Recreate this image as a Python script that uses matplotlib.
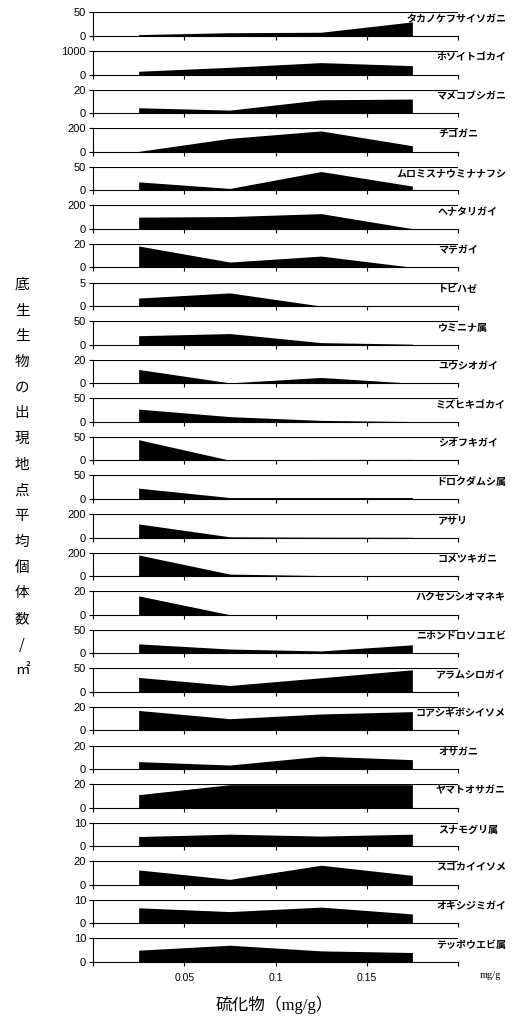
import numpy as np
import matplotlib
matplotlib.use("Agg")
import matplotlib.pyplot as plt

plt.rcParams['font.family'] = ['Liberation Sans', 'Noto Sans CJK JP', 'DejaVu Sans']

# sulfide class midpoints (mg/g)
sulfide = [0.025, 0.075, 0.125, 0.175]

species = ["タカノケフサイソガニ", "ホソイトゴカイ", "マメコブシガニ", "チゴガニ",
           "ムロミスナウミナナフシ", "ヘナタリガイ", "マテガイ", "トビハゼ",
           "ウミニナ属", "ユウシオガイ", "ミズヒキゴカイ", "シオフキガイ",
           "ドロクダムシ属", "アサリ", "コメツキガニ", "ハクセンシオマネキ",
           "ニホンドロソコエビ", "アラムシロガイ", "コアシギボシイソメ", "オサガニ",
           "ヤマトオサガニ", "スナモグリ属", "スゴカイイソメ", "オキシジミガイ",
           "テッポウエビ属"]

ymax = [50, 1000, 20, 200, 50, 200, 20, 5, 50, 20, 50, 50, 50, 200, 200, 20,
        50, 50, 20, 20, 20, 10, 20, 10, 10]

counts = [
    [3, 7, 8, 30],
    [140, 310, 510, 380],
    [4.6, 2.6, 11.4, 12],
    [3, 114, 177, 51],
    [18, 4, 40, 9],
    [100, 105, 130, 2],
    [18.3, 4.6, 9.7, 0.2],
    [1.7, 2.8, 0, 0],
    [19, 23.6, 4.3, 1],
    [11.7, 0.3, 4.9, 0],
    [27, 11, 3, 0.5],
    [44, 0.3, 2, 2],
    [23, 3, 3, 3],
    [116, 6, 3, 2],
    [180, 17, 5, 1],
    [16, 0, 0, 0],
    [20, 9, 5, 18],
    [30.7, 13.6, 30, 47],
    [17, 10, 14, 16],
    [6.3, 3.4, 10.9, 8],
    [11, 19.5, 19.5, 19.5],
    [4.1, 5.1, 4.3, 5.1],
    [12.6, 4.6, 16.6, 8],
    [6.6, 5, 6.9, 4],
    [5, 7.1, 4.7, 4],
]

xticks = [0, 0.05, 0.1, 0.15, 0.2]
xticklabels = ["", "0.05", "0.1", "0.15", ""]

W, H = 514, 1019
fig = plt.figure(figsize=(W / 100, H / 100), dpi=100)

left_px, right_px = 93, 458
zero0, step, ph = 36, 38.58, 23.5

axes = []
for i, name in enumerate(species):
    y0 = zero0 + i * step
    ax = fig.add_axes([left_px / W, 1 - y0 / H, (right_px - left_px) / W, ph / H])
    ax.fill_between(sulfide, counts[i], 0, color='black', lw=0)
    ax.set_xlim(0, 0.2)
    ax.set_ylim(0, ymax[i])
    ax.axhline(ymax[i], color='black', lw=0.8)
    for s in ['top', 'right']:
        ax.spines[s].set_visible(False)
    ax.spines['left'].set_linewidth(0.8)
    ax.spines['bottom'].set_linewidth(0.8)
    ax.set_yticks([0, ymax[i]])
    ax.set_yticklabels(["0", str(ymax[i])])
    ax.set_xticks(xticks)
    if i == len(species) - 1:
        ax.set_xticklabels(xticklabels)
    else:
        ax.set_xticklabels([])
    ax.tick_params(axis='both', length=3, width=0.8, labelsize=8, pad=2)
    ax.tick_params(axis='x', pad=5, labelsize=7.5)
    ax.set_facecolor('none')
    axes.append(ax)

# species names on the right
fig.canvas.draw()
renderer = fig.canvas.get_renderer()
for i, name in enumerate(species):
    ylab = zero0 + i * step - ph * 0.72
    t = fig.text(438 / W, 1 - ylab / H, name, ha='left', va='center',
                 fontsize=7.2, fontweight='bold', family=['Noto Sans CJK JP'])
    bb = t.get_window_extent(renderer)
    if bb.x1 > 506:
        t.set_ha('right')
        t.set_x(506 / W)

fig.text(490 / W, 1 - 975 / H, "mg/g", ha='center', va='center', fontsize=7.5,
         family=['Liberation Serif'])

fig.text(274 / W, 1 - 1005 / H, "硫化物（mg/g）", ha='center', va='center',
         fontsize=12, family=['Liberation Serif', 'Noto Sans CJK JP'])

ylabel_chars = list("底生生物の出現地点平均個体数") + ["/", "㎡"]
for k, ch in enumerate(ylabel_chars):
    fig.text(22 / W, 1 - (285 + k * 25.7) / H, ch, ha='center', va='center',
             fontsize=10.5, family=['Noto Sans CJK JP', 'DejaVu Sans'])

fig.savefig("out.png", dpi=100)
